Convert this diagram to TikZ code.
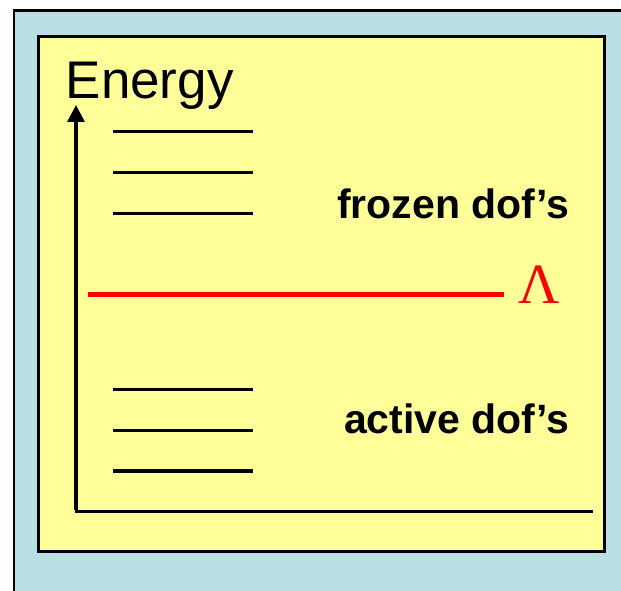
\documentclass[tikz,border=0pt]{standalone}
\usepackage{fontspec}
\setmainfont{Liberation Sans}
\newfontfamily\lamfont{Liberation Serif}
\usetikzlibrary{arrows.meta}
\definecolor{outerblue}{RGB}{185,223,227}
\definecolor{inneryellow}{RGB}{255,255,153}
\definecolor{lamred}{RGB}{255,0,0}
\tikzset{
  level/.style={line width=3.2pt, black},
  axisline/.style={line width=3.4pt, black},
  lbl/.style={inner sep=0pt, text=black, font=\bfseries\fontsize{41}{47}\selectfont},
}
\begin{document}
\begin{tikzpicture}[x=1pt,y=-1pt]
\useasboundingbox (0,0) rectangle (621,591);
\fill[white] (0,0) rectangle (621,591);
\begin{scope}
\clip (0,0) rectangle (621,591);
\draw[line width=2.6pt, fill=outerblue] (14,10.5) rectangle (650,620);
\end{scope}
\draw[line width=2.8pt, fill=inneryellow] (38.7,36.3) rectangle (604.7,551.3);
% axes
\coordinate (origin) at (76,511.7);
\coordinate (ytop) at (76,105);
\coordinate (xend) at (593,511.7);
\draw[axisline, -{Triangle[length=17pt,width=17pt]}] ([yshift=1.7pt]origin) -- (ytop);
\draw[axisline] ([xshift=-1.5pt]origin) -- (xend);
% energy levels
\foreach \y/\n in {131.7/u1,172.7/u2,213.3/u3,389.3/l1,430.7/l2,471/l3}{
  \coordinate (\n a) at (113.3,\y);
  \coordinate (\n b) at (253.3,\y);
  \draw[level] (\n a) -- (\n b);
}
% cutoff
\coordinate (cuta) at (88.3,294.7);
\coordinate (cutb) at (504,294.7);
\draw[line width=4.6pt, lamred] (cuta) -- (cutb);
% labels
\node[inner sep=0pt, anchor=base west, font=\fontsize{53}{62}\selectfont] (energy) at (65.5,99) {Energy};
\node[lbl, anchor=base east] (frozen) at (569,218) {frozen dof’s};
\node[lbl, anchor=base east] (active) at (569,433) {active dof’s};
\node[inner sep=0pt, anchor=base west, text=lamred, font=\lamfont\fontsize{57}{66}\selectfont] (lambda) at (518.5,303.3) {Λ};
\end{tikzpicture}
\end{document}
